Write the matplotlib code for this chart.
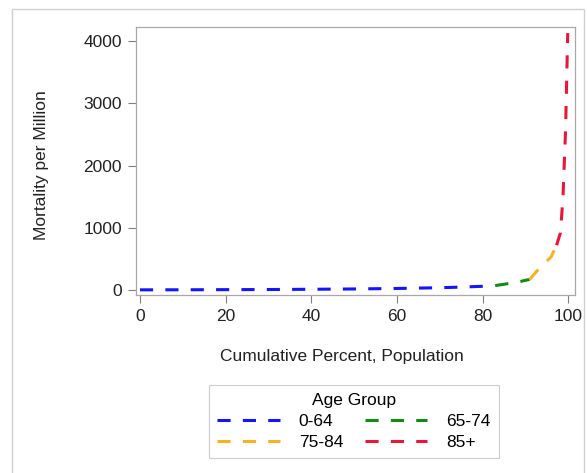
import matplotlib
matplotlib.use("Agg")
import matplotlib.pyplot as plt
from matplotlib.patches import Rectangle

plt.rcParams['font.family'] = ['Liberation Sans', 'DejaVu Sans']

groups = ["0-64", "65-74", "75-84", "85+"]
colors = ["#1414ff", "#138a13", "#f5b324", "#e8173a"]

x_064 = [0, 10, 20, 30, 40, 50, 60, 70, 75, 80, 83]
y_064 = [3, 4, 6, 8, 12, 17, 25, 37, 47, 60, 72]
x_6574 = [83, 85, 87, 89, 91]
y_6574 = [72, 92, 115, 140, 170]
x_7584 = [91, 92.5, 94, 96, 97.3]
y_7584 = [170, 290, 400, 530, 720]
x_85 = [97.3, 98.2, 98.8, 99.4, 99.9]
y_85 = [720, 920, 1500, 2580, 4130]

xs = [x_064, x_6574, x_7584, x_85]
ys = [y_064, y_6574, y_7584, y_85]

xticks = [0, 20, 40, 60, 80, 100]
yticks = [0, 1000, 2000, 3000, 4000]

fig = plt.figure(figsize=(5.87, 4.73), dpi=100)
ax = fig.add_axes([136/587, 1-295/473, (575-136)/587, (295-27)/473])

handles = {}
for g, c, x, y in zip(groups, colors, xs, ys):
    h, = ax.plot(x, y, color=c, lw=2.2, dashes=(4.3, 4.0), label=g)
    handles[g] = h

ax.set_xlim(-0.93, 101.6)
ax.set_ylim(-80, 4228)
ax.set_xticks(xticks)
ax.set_yticks(yticks)
ax.tick_params(colors="#808080", labelcolor="#222222", labelsize=12.5, length=6, width=0.8, pad=4)
for s in ax.spines.values():
    s.set_color("#a8a8a8")
    s.set_linewidth(0.9)

ax.set_xlabel("Cumulative Percent, Population", fontsize=12.5, color="#222222")
ax.set_ylabel("Mortality per Million", fontsize=12.5, color="#222222")
ax.xaxis.set_label_coords((342-136)/439, (295-357)/268)
ax.xaxis.label.set_va("center")
ax.yaxis.set_label_coords((42-136)/439, (295-165)/268)
ax.yaxis.label.set_va("center")

order = ["0-64", "75-84", "65-74", "85+"]
leg = fig.legend([handles[g] for g in order], order, loc="center",
                 bbox_to_anchor=(354/587, 1-421.5/473), ncol=2,
                 title="Age Group", fontsize=12.5, title_fontsize=12.5,
                 frameon=True, fancybox=False, edgecolor="#c0c0c0",
                 handlelength=3.6, columnspacing=1.25, borderpad=0.45,
                 labelspacing=0.35, handletextpad=1.1)
leg.get_frame().set_linewidth(0.8)

fig.patches.append(Rectangle((12/587, -0.01), (584-12)/587, 1.01-9/473,
                             transform=fig.transFigure, fill=False,
                             edgecolor="#d0d0d0", lw=1))

fig.savefig("out.png", dpi=100)
